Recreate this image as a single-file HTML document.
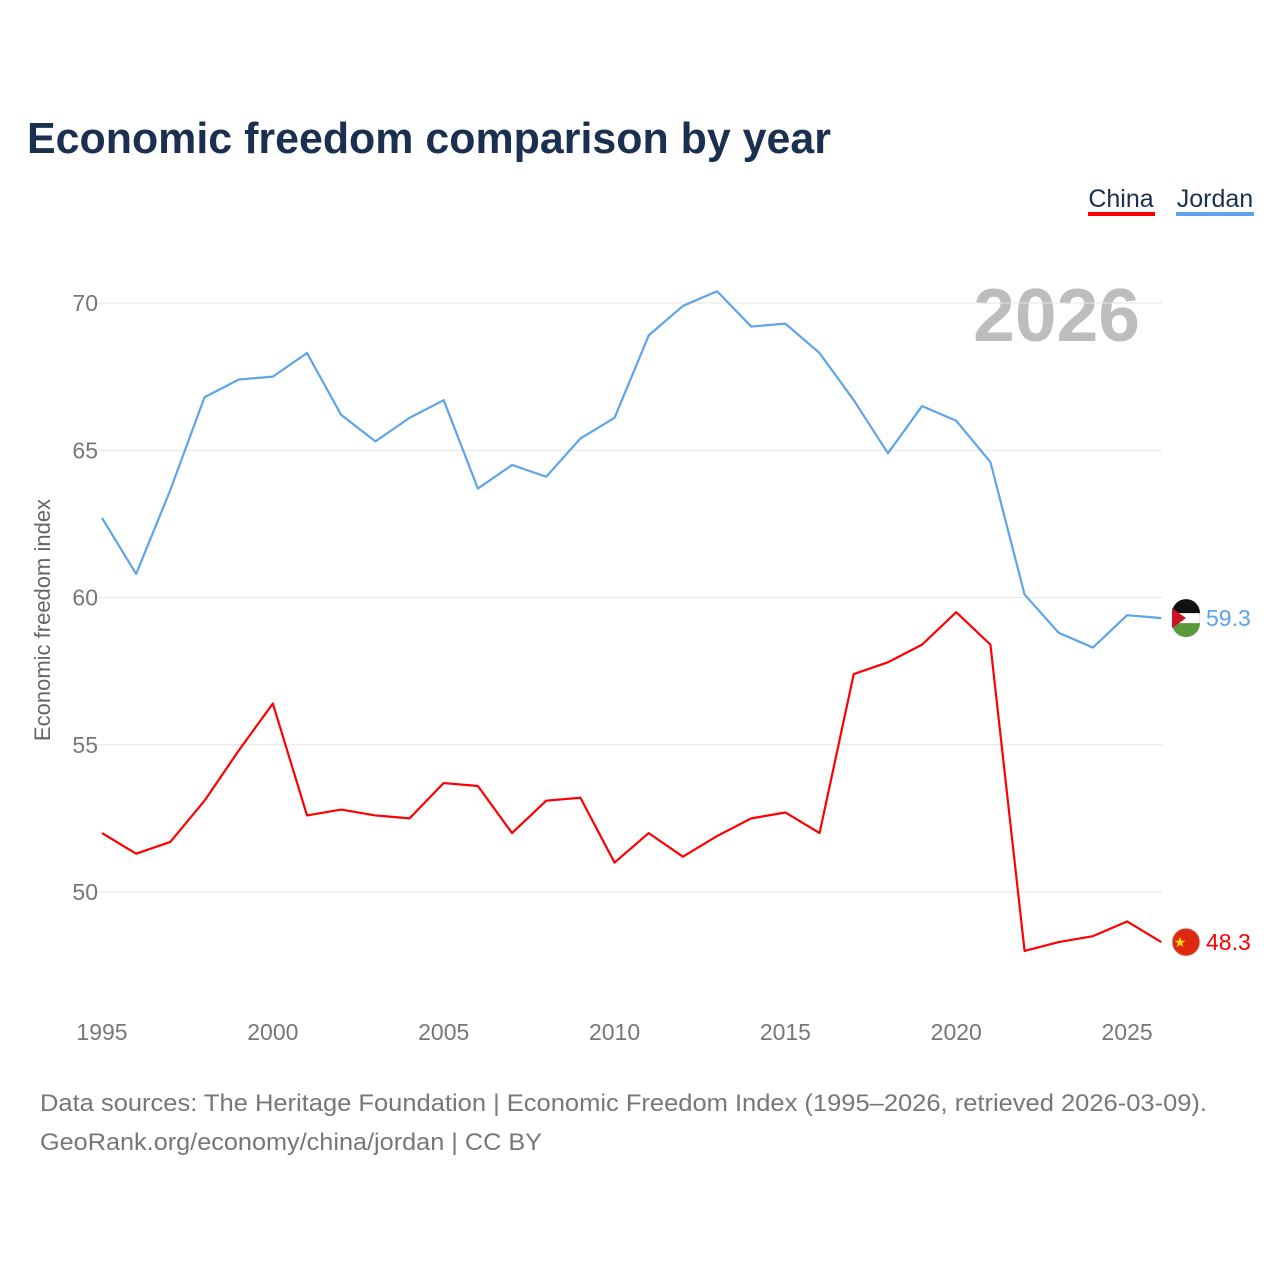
<!DOCTYPE html>
<html><head><meta charset="utf-8"><style>
body{margin:0;background:#fff;font-family:"Liberation Sans",sans-serif;}
svg{display:block}
</style></head><body>
<svg id="chart" width="1280" height="1280" xmlns="http://www.w3.org/2000/svg">
<rect width="1280" height="1280" fill="#fff"/>
<text x="27" y="153" font-size="44" font-weight="bold" fill="#1b3050" textLength="804" lengthAdjust="spacingAndGlyphs">Economic freedom comparison by year</text>
<g>
<text x="1121" y="207" font-size="25" fill="#1b3050" text-anchor="middle">China</text>
<rect x="1088" y="212" width="67" height="4" fill="#ff0000"/>
<text x="1215" y="207" font-size="25" fill="#1b3050" text-anchor="middle">Jordan</text>
<rect x="1176" y="212" width="78" height="4" fill="#5da5e8"/>
</g>
<text x="1140" y="341" font-size="75" font-weight="bold" fill="#bdbdbd" text-anchor="end">2026</text>
<g id="grid"></g><g id="xaxis"></g><g id="series"></g>
<text transform="translate(50,620) rotate(-90)" font-size="22" fill="#666" text-anchor="middle">Economic freedom index</text>
<text x="40" y="1111" font-size="24" fill="#777" textLength="1167" lengthAdjust="spacingAndGlyphs">Data sources: The Heritage Foundation | Economic Freedom Index (1995–2026, retrieved 2026-03-09).</text>
<text x="40" y="1150" font-size="24" fill="#777" textLength="502" lengthAdjust="spacingAndGlyphs">GeoRank.org/economy/china/jordan | CC BY</text>
</svg>
<script>
const years=[1995,1996,1997,1998,1999,2000,2001,2002,2003,2004,2005,2006,2007,2008,2009,2010,2011,2012,2013,2014,2015,2016,2017,2018,2019,2020,2021,2022,2023,2024,2025,2026];
const jordan=[62.7,60.8,63.65,66.8,67.4,67.5,68.3,66.2,65.3,66.1,66.7,63.7,64.5,64.1,65.4,66.1,68.9,69.9,70.4,69.2,69.3,68.3,66.7,64.9,66.5,66.0,64.6,60.1,58.8,58.3,59.4,59.3];
const china=[52.0,51.3,51.7,53.1,54.8,56.4,52.6,52.8,52.6,52.5,53.7,53.6,52.0,53.1,53.2,51.0,52.0,51.2,51.9,52.5,52.7,52.0,57.4,57.8,58.4,59.5,58.4,48.0,48.3,48.5,49.0,48.3];
const yTicks=[50,55,60,65,70];
const xTicks=[1995,2000,2005,2010,2015,2020,2025];
const NS="http://www.w3.org/2000/svg";
const X=y=>102+(y-1995)*34.17;
const Y=v=>892-(v-50)*29.45;
function mk(t,a,p){const e=document.createElementNS(NS,t);for(const k in a)e.setAttribute(k,a[k]);p.appendChild(e);return e;}
const grid=document.getElementById('grid');
yTicks.forEach(v=>{
 const l=mk('line',{x1:95,x2:1162,y1:Y(v),y2:Y(v),stroke:'#e6e6e6','stroke-width':1},grid);
 
 
 const t=mk('text',{x:98,y:Y(v)+8,'font-size':23,fill:'#777','text-anchor':'end'},grid);
 t.textContent=v;
 
 
});
const xa=document.getElementById('xaxis');
xTicks.forEach(y=>{
 const t=mk('text',{x:X(y),y:1040,'font-size':23,fill:'#777','text-anchor':'middle'},xa);
 t.textContent=y;
 
 
});
const sg=document.getElementById('series');
function series(vals,color,name){
 const p=mk('polyline',{points:vals.map((v,i)=>X(years[i])+','+Y(v)).join(' '),fill:'none',stroke:color,'stroke-width':2.2,'stroke-linejoin':'round'},sg);
 
 
 const last=vals[vals.length-1];
 const c=mk('circle',{cx:1186,cy:Y(last),r:14,fill:name==='china'?'#de2910':'#fff',stroke:'#ddd'},sg);
 
 
 if(name==='jordan'){
  mk('path',{d:`M1172,${Y(last)-5} A14,14 0 0 1 1200,${Y(last)-5} Z`,fill:'#111'},sg);
  mk('path',{d:`M1172,${Y(last)+5} A14,14 0 0 0 1200,${Y(last)+5} Z`,fill:'#5a9a3a'},sg);
  mk('path',{d:`M1172,${Y(last)-10} L1186,${Y(last)} L1172,${Y(last)+10} Z`,fill:'#ce1126'},sg);
 } else {
  const s=mk('text',{x:1180,y:Y(last)+5,'font-size':14,fill:'#ffde00','text-anchor':'middle'},sg);s.textContent='★';
 }
 const t=mk('text',{x:1206,y:Y(last)+8,'font-size':23,fill:color},sg);
 t.textContent=last.toFixed(1);
 
 
}
series(jordan,'#5da5e8','jordan');
series(china,'#ff0000','china');
</script>
</body></html>
